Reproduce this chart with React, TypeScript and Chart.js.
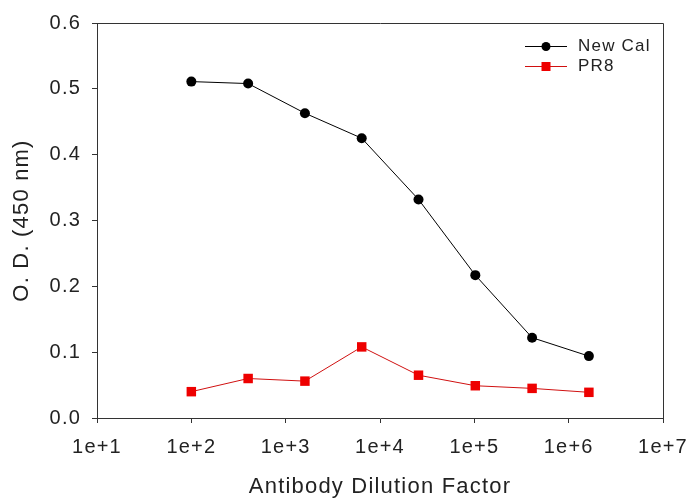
import React, { useEffect, useRef } from 'react';
import { Chart, registerables } from 'chart.js';

Chart.register(...registerables);

const dilutions = [100, 400, 1600, 6400, 25600, 102400, 409600, 1638400];
const newCalValues = [0.511, 0.508, 0.463, 0.425, 0.332, 0.217, 0.122, 0.094];
const pr8Values = [0.040, 0.060, 0.056, 0.108, 0.065, 0.049, 0.045, 0.039];
const seriesLabels = ['New Cal', 'PR8'];
const xTickValues = [1e1, 1e2, 1e3, 1e4, 1e5, 1e6, 1e7];
const xTickLabels = ['1e+1', '1e+2', '1e+3', '1e+4', '1e+5', '1e+6', '1e+7'];
const yTickValues = [0, 0.1, 0.2, 0.3, 0.4, 0.5, 0.6];
const yTickLabels = ['0.0', '0.1', '0.2', '0.3', '0.4', '0.5', '0.6'];
const xTitle = 'Antibody Dilution Factor';
const yTitle = 'O. D. (450 nm)';

const FONT = '"Liberation Sans", Arial, sans-serif';
const AXIS = '#333333';
const TEXT = '#222222';

const spacingPlugin = {
  id: 'spacing',
  beforeDraw(chart: any) {
    try { (chart.ctx as any).letterSpacing = '1.2px'; } catch (e) {}
  },
};

const framePlugin = {
  id: 'frame',
  afterDraw(chart: any) {
    const { ctx, chartArea } = chart;
    const t = Math.round(chartArea.top) + 0.5;
    const r = Math.round(chartArea.right) + 0.5;
    const b = Math.round(chartArea.bottom) + 0.5;
    const l = Math.round(chartArea.left) + 0.5;
    ctx.save();
    ctx.strokeStyle = AXIS;
    ctx.lineWidth = 1;
    ctx.beginPath();
    ctx.moveTo(l, t);
    ctx.lineTo(r, t);
    ctx.lineTo(r, b);
    ctx.stroke();
    ctx.restore();
  },
};

const legendPlugin = {
  id: 'cornerLegend',
  afterDraw(chart: any) {
    const { ctx, chartArea } = chart;
    ctx.save();
    chart.data.datasets.forEach((ds: any, i: number) => {
      const y = Math.round(chartArea.top + 23 + i * 20) + 0.5;
      const x1 = chartArea.right - 138;
      const x2 = x1 + 42;
      const xm = (x1 + x2) / 2;
      ctx.strokeStyle = ds.borderColor;
      ctx.lineWidth = 1;
      ctx.beginPath();
      ctx.moveTo(x1, y);
      ctx.lineTo(x2, y);
      ctx.stroke();
      ctx.fillStyle = ds.pointBackgroundColor;
      ctx.beginPath();
      if (ds.pointStyle === 'rect') {
        ctx.rect(xm - 4.5, y - 4.5, 9, 9);
      } else {
        ctx.arc(xm, y, 4.5, 0, Math.PI * 2);
      }
      ctx.fill();
      ctx.fillStyle = TEXT;
      ctx.font = `17px ${FONT}`;
      ctx.textAlign = 'left';
      ctx.textBaseline = 'middle';
      ctx.fillText(ds.label, x2 + 11, y);
    });
    ctx.restore();
  },
};

export default function App() {
  const ref = useRef<HTMLCanvasElement | null>(null);

  useEffect(() => {
    if (!ref.current) return;
    const chart = new Chart(ref.current, {
      type: 'line',
      data: {
        datasets: [
          {
            label: seriesLabels[0],
            data: dilutions.map((x, i) => ({ x, y: newCalValues[i] })),
            borderColor: '#000000',
            backgroundColor: '#000000',
            pointBackgroundColor: '#000000',
            pointBorderColor: '#000000',
            pointStyle: 'circle',
            pointRadius: 5,
            pointBorderWidth: 0,
            borderWidth: 1,
            tension: 0,
          },
          {
            label: seriesLabels[1],
            data: dilutions.map((x, i) => ({ x, y: pr8Values[i] })),
            borderColor: '#d01010',
            backgroundColor: '#ee0000',
            pointBackgroundColor: '#ee0000',
            pointBorderColor: '#ee0000',
            pointStyle: 'rect',
            pointRadius: 6.7,
            pointBorderWidth: 0,
            borderWidth: 1,
            tension: 0,
          },
        ],
      },
      options: {
        animation: false,
        responsive: false,
        maintainAspectRatio: false,
        layout: { padding: { top: 23, right: 24, left: 0, bottom: 0 } },
        plugins: {
          legend: { display: false },
          tooltip: { enabled: false },
        },
        scales: {
          x: {
            type: 'logarithmic',
            min: 10,
            max: 1e7,
            afterBuildTicks: (scale: any) => {
              scale.ticks = xTickValues.map((v) => ({ value: v }));
            },
            afterFit: (scale: any) => {
              scale.height = 82;
              scale.paddingLeft = 0;
              scale.paddingRight = 0;
            },
            grid: {
              display: true,
              drawOnChartArea: false,
              drawTicks: true,
              tickLength: 5,
              color: AXIS,
              lineWidth: 1,
            },
            border: { display: true, color: AXIS, width: 1 },
            ticks: {
              autoSkip: false,
              maxRotation: 0,
              padding: 12,
              color: TEXT,
              font: { family: FONT, size: 20 },
              callback: (_v: any, i: number) => xTickLabels[i],
            },
            title: {
              display: true,
              text: xTitle,
              color: TEXT,
              font: { family: FONT, size: 22 },
              padding: { top: 0, bottom: 0 },
            },
          },
          y: {
            type: 'linear',
            min: 0,
            max: 0.6,
            afterBuildTicks: (scale: any) => {
              scale.ticks = yTickValues.map((v) => ({ value: v }));
            },
            afterFit: (scale: any) => {
              scale.width = 97;
              scale.paddingTop = 0;
              scale.paddingBottom = 0;
            },
            grid: {
              display: true,
              drawOnChartArea: false,
              drawTicks: true,
              tickLength: 5,
              color: AXIS,
              lineWidth: 1,
            },
            border: { display: true, color: AXIS, width: 1 },
            ticks: {
              padding: 11,
              color: TEXT,
              font: { family: FONT, size: 20 },
              callback: (_v: any, i: number) => yTickLabels[i],
            },
            title: {
              display: true,
              text: yTitle,
              color: TEXT,
              font: { family: FONT, size: 22 },
              padding: { top: 9, bottom: 0 },
            },
          },
        },
      },
      plugins: [spacingPlugin, framePlugin, legendPlugin],
    } as any);
    return () => chart.destroy();
  }, []);

  return (
    <div style={{ position: 'absolute', left: 0, top: 0, width: 687, height: 500, background: '#ffffff' }}>
      <canvas ref={ref} width={687} height={500} style={{ display: 'block', width: 687, height: 500 }} />
    </div>
  );
}
